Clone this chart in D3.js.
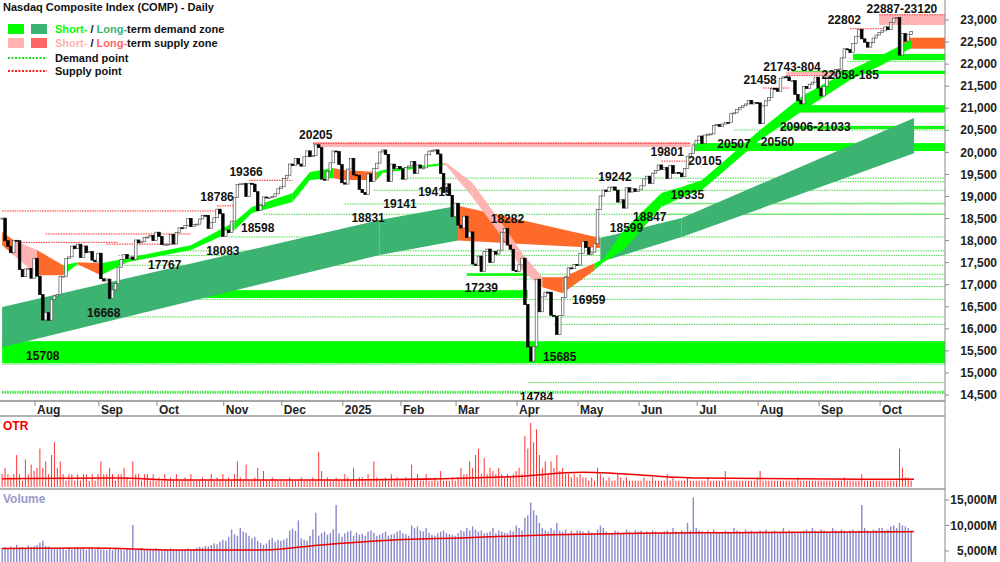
<!DOCTYPE html>
<html><head><meta charset="utf-8">
<script src="https://cdn.jsdelivr.net/npm/d3@7/dist/d3.min.js"></script>
<style>body{margin:0;background:#fff}text{font-family:"Liberation Sans",Arial,sans-serif}</style>
</head><body><svg id="chart" width="1000" height="562"></svg>
<script>
// daily closes, one array per month
const months = ["Jul","Aug","Sep","Oct","Nov","Dec","2025","Feb","Mar","Apr","May","Jun","Jul","Aug","Sep","Oct"];
const closes = [
 [18509,17997,17871,17726,18007,17997,17342,17182,17358,17370,17147,17599],
 [17194,16776,16200,16366,16195,16660,16745,16780,17188,17192,17594,17631,17877,17816,17918,17619,17877,17725,17754,17556,17516,17714],
 [17136,17084,17127,16690,16884,17025,17396,17569,17683,17592,17628,17573,18014,17948,17974,18074,18082,18119,17999,18190],
 [18095,17910,17918,17918,18138,17924,18183,18292,18282,18343,18502,18316,18367,18373,18490,18574,18573,18276,18415,18518,18712,18608,18095],
 [18239,18180,18439,18983,19269,19287,19298,18999,19299,19281,19108,18680,18791,18988,18966,18972,19003,19060,19175,19218],
 [19404,19480,19735,19700,19859,19736,19687,19902,20034,19902,19926,20173,20109,19392,19372,19572,19764,20031,20020,19722,19311],
 [19280,19621,19864,19490,19478,19162,19088,19044,19511,19338,19630,19756,20009,20053,19954,19341,19734,19632,19681,19627],
 [19392,19654,19692,19791,19523,19714,19643,19649,19945,20027,20041,20056,19962,19524,19087,19286,19026,18544,18847],
 [18350,18285,18553,18069,18196,17468,17436,17648,17303,17754,17808,17504,17750,17691,17784,18188,18271,17899,17804,17322,17299],
 [17449,17601,16551,15588,15268,15603,17125,16387,16724,16832,16831,16307,16286,15870,16300,16708,17166,17382,17366,17461,17446],
 [17711,17978,17844,17690,17738,17929,18708,19010,19146,19112,19211,19215,19143,18873,18925,18737,19199,19100,19175,19113,19150],
 [19243,19399,19460,19299,19529,19591,19714,19615,19662,19406,19701,19521,19546,19530,19447,19631,19912,19974,20168,20273],
 [20370,20202,20393,20412,20418,20611,20630,20585,20640,20678,20677,20885,20895,20974,21020,21057,21097,21178,21098,21130,21122],
 [20650,21053,21169,21242,21451,21450,21385,21681,21713,21710,21622,21629,21314,21172,21100,21496,21449,21544,21590,21705,21455],
 [21279,21497,21707,21700,21798,21879,21886,22141,22348,22333,22261,22470,22631,22788,22573,22497,22384,22484,22591,22660,22720],
 [22755,22844,22780,22941,23043,23054,22204,22694,22522,22671,22740]
];
const priceTicks = [23000,22500,22000,21500,21000,20500,20000,19500,19000,18500,18000,17500,17000,16500,16000,15500,15000,14500];

// long-term band: day index, low, high, kind (d demand / s supply)
const ltIdx  = [0,130,157,157,206,206,234,314];
const ltLo   = [15585,17671,18000,18000,17830,17512,18079,19980];
const ltHi   = [16492,18465,18790,18790,18057,18057,18510,20780];
const ltKind = ["d","d","d","s","s","d","d","d"];

// short-term band: d demand, s supply, o overlap
const stIdx  = [0,4,12,21,26,34,43,65,80,86,100,106,114,117,129,131,152,153,162,173,179,186,193,204,207,214,227,234,241,261,276,292,303,313];
const stLo   = [17897,17670,17217,17217,17466,17217,17510,17784,18237,18623,18872,19371,19417,19371,19371,19530,19711,19690,18985,18010,17330,16944,16808,17330,17510,17784,18760,18985,19144,20278,20959,21639,21979,22365];
const stHi   = [18192,18010,17784,17443,17510,17489,17602,17897,18419,18760,19076,19552,19643,19598,19552,19598,19757,19757,19303,18305,17716,17171,17171,17489,17580,18237,19076,19212,19371,20505,21299,21866,22206,22546];
const stKind = ["o","s","o","d","o","d","d","d","d","d","d","d","o","o","d","d","s","s","s","s","s","o","o","d","d","d","d","d","d","d","d","d","d","d"];

// horizontal zones: low, high, start day, end day, kind
const zoneLo = [15220,16700,17200,20030,20530,20910,21775,22090,20120,22887,22350,21760];
const zoneHi = [15720,16877,17260,20210,20600,21070,21850,22230,20230,23120,22600,21830];
const zoneS  = [0,38,160,238,268,275,272,293,107,302,310,270];
const zoneE  = [325,181,182,325,325,325,325,325,237,325,325,288];
const zoneK  = ["d","d","d","d","d","d","d","d","s","s","o","s"];

// demand / supply points: level, start day, end day
const demLv = [14560,14784,15200,15685,16100,16270,16668,16959,17130,17239,17440,17660,17767,18083,18598,18599,18831,18847,19141,19335,19415,20507,20560,20906,22058];
const demS  = [0,181,0,193,190,0,36,196,178,160,18,40,57,78,90,223,118,226,128,236,137,252,268,272,291];
const supLv = [18671,17960,18150,17920,18786,19366,20205,18282,17130,19801,21458,21743,22802,23120];
const supS  = [0,3,15,36,74,85,107,175,183,227,262,270,292,302];
const supE  = [74,40,65,60,80,100,237,187,200,237,271,288,305,325];

// point labels: text, day, price
const lblT = ["18671","15708","16668","17767","18083","18598","18786","19366","20205","18831","19141","19415","17239","18282","14784","15685","16959","19242","18599","18847","19801","19335","20105","20507","20560","21458","21743-804","20906-21033","22058-185","22802","22887-23120"];
const lblD = [-1,14,35,56,76,88,74,84,108,126,137,149,165,174,184,192,202,211,215,223,229,236,242,252,267,261,272,280,292,290,322];
const lblP = [18750,15500,16480,17580,17900,18410,18900,19470,20310,18640,18960,19230,17050,18390,14590,15490,16770,19350,18410,18660,19910,19150,19920,20320,20370,21560,21850,20710,21870,22910,23170];
const lblBelow = [0,1,1,1,1,1,0,0,0,1,1,1,1,0,1,1,1,0,1,1,0,1,1,1,1,0,0,1,1,0,0];

// OTR and volume (thousand M), one value per day
const otr = [2,3,2,1.5,2,5,2,1,4.3,2,3.5,2.5, 3,6,3,4,2,5,7,3,4,2,1,2,2,1,2,1,2,2,1,2,1,2, 4,2,2,3,2,1,2,2,3,1.5,1,4,2,2,1,2,2,1,2,1,
 1.5,1,2,1,1.5,1,2,1,1,1.5,1,2,1,1,1,1.5,1,1,2,1,1.5,1,2, 1,1.5,1,2,4,1.5,1,3.5,1,1,1.5,3,1,2.5,1,1,1.5,1,1,1, 1,1,1.5,1,1,1,1.5,1,1,1,1.5,1,5.5,2.5,1,1.5,1,1,1.5,1,1,
 2,1.5,1,3,1,1.5,1.5,1,2,1,4,1.5,1,1,1.5,1,2,1,1.5,1, 1,1.5,1,3.5,1,2,1,1,2,1,1,1.5,1,2.5,1,1,1,1.5,1,
 1.5,3,2,2,4,3,5,6,2,4.5,2,3,2.5,2,3,2,1.5,2,1.5,2,2.5, 3,2,8,6,10,7,9,5,3,4,2,4,3,5,2.5,3,2,2,1.5,2,1.5,
 2,1.5,1.5,1,1.5,1,3,2,1.5,1,1.5,1,1,2,1.5,1,1.5,1,1,1,1, 1,1.5,1,1,1.5,1,1,1,1,2,1,1.5,1,1,1,1,1.5,1,1,1,
 1,1,1,1.5,1,1,1,1,1,2.5,1,1,1,1,1,1,1,1,1,1,1.5, 2.5,1,1,1,1,1,1,1,1,1,1,1,1,1.5,1,1,1,1,1,1,1, 1,1,1,1,1,1,1,1,1.5,1,1,1,1,1,2,1,1,1,1,1,1,
 1,1,1,1,1,1,6,3,1.5,1.5,1];
const vol = [5.6,5.8,5.4,5.9,5.5,6.2,5.7,5.8,5.6,6.1,5.8,6.0, 6.2,6.6,7.0,6.0,5.9,5.5,5.6,5.4,5.5,5.6,5.2,5.6,5.3,5.4,5.6,5.4,5.5,5.2,5.5,5.6,5.3,5.8, 5.4,5.3,5.2,5.5,5.2,5.4,5.6,5.3,5.1,5.4,5.3,10.1,5.2,5.4,5.6,5.3,5.4,5.2,5.3,5.6,
 5.3,5.1,5.4,5.2,5.5,5.3,5.4,5.2,5.3,5.4,5.5,5.3,5.4,5.6,5.8,5.7,6.0,5.9,6.2,6.5,6.3,6.8,7.2, 7.0,7.8,9.2,8.3,8.0,9.5,8.8,8.6,8.0,7.5,7.8,7.0,6.6,6.2,6.5,7.2,7.6,6.8,7.2,7.0, 7.2,7.5,9.0,9.4,9.0,11.0,7.5,7.2,7.0,8.0,9.2,12.5,8.0,8.5,8.8,8.2,8.5,9.2,14.0,8.5,7.8,
 8.5,8.8,9.0,8.0,8.6,8.2,8.4,8.0,8.8,9.0,8.6,8.0,8.2,8.5,8.8,8.0,8.2,8.4,8.8,9.0, 8.5,8.3,8.0,10.0,9.5,9.8,9.0,8.8,9.5,8.6,8.2,8.0,8.5,8.8,9.0,8.5,8.3,8.2,8.0,
 8.5,9.0,8.8,9.5,9.0,9.8,9.2,8.8,9.0,8.5,8.6,8.8,9.5,8.5,9.0,8.8,8.6,8.5,9.0,8.8,10.0, 9.5,9.0,11.5,12.0,14.5,13.0,12.0,10.5,9.5,9.0,8.8,9.5,9.0,10.5,9.0,8.8,9.2,8.5,9.0,8.6,9.0,
 9.0,8.8,8.5,9.0,8.6,8.5,9.2,10.0,9.5,8.8,8.5,8.6,9.0,8.8,8.5,8.6,9.2,8.8,8.5,9.0,8.8, 9.0,8.5,8.8,8.6,9.0,8.8,8.5,8.6,8.8,9.0,8.5,9.5,8.8,8.6,9.0,8.8,10.5,9.0,15.5,9.5,
 9.0,8.8,8.5,9.0,8.6,9.2,8.8,8.5,8.6,9.0,8.8,8.5,9.5,9.0,8.8,8.6,9.2,8.8,9.0,8.5,8.6, 9.0,8.8,9.2,8.6,8.8,9.0,8.5,8.8,9.5,8.6,9.0,8.8,8.6,8.5,8.8,9.0,9.2,8.8,9.5,9.0,8.8,
 9.2,9.0,8.8,8.6,9.5,9.0,8.8,9.2,9.0,8.6,9.0,9.2,8.8,9.0,14.0,9.5,9.0,8.8,9.2,9.0,9.5, 9.5,9.0,9.2,9.8,10.0,9.5,10.5,10.0,9.8,9.5,9.0];
const otrMaIdx = [0,40,60,120,175,200,240,314], otrMaV = [1.3,1.4,1.1,1.1,1.6,2.3,1.4,1.2];
const volMaIdx = [0,30,60,90,110,130,160,190,220,250,280,314], volMaV = [5.5,5.6,5.2,5.2,6.2,7.0,7.6,8.2,8.5,8.6,8.7,8.8];

const days = [];
closes.forEach((m, mi) => m.forEach((c, j) => days.push({c: c, o: days.length ? days[days.length-1].c : c, first: j == 0 && mi > 0, mi: mi})));
const N = days.length;

const svg = d3.select("#chart");
const x = d3.scaleLinear().domain([12, 304]).range([37, 885]);
const y = d3.scaleLinear().domain([14500, 23000]).range([395, 20]);
const yOtr = d3.scaleLinear().domain([0, 10]).range([487, 423]);
const yVol = d3.scaleLinear().domain([5, 15]).range([551, 500]);
const xr = 945;

svg.append("clipPath").attr("id","main").append("rect").attr("x",0).attr("y",0).attr("width",xr).attr("height",400);
const g = svg.append("g").attr("clip-path","url(#main)");
const col = {d:"#00ff00", s:"#ffb3b3", o:"#ff6a2a", ld:"#3cb371", ls:"#ff6a2a"};

// horizontal zones
zoneLo.forEach((lo, i) => g.append("rect").attr("x", x(zoneS[i])).attr("width", Math.min(x(zoneE[i]), xr) - x(zoneS[i]))
  .attr("y", y(zoneHi[i])).attr("height", y(lo) - y(zoneHi[i])).attr("fill", col[zoneK[i]]));

// dotted points
demLv.forEach((v, i) => g.append("line").attr("x1", x(demS[i])).attr("x2", xr).attr("y1", y(v)).attr("y2", y(v))
  .attr("stroke","#44dd44").attr("stroke-width", i == 0 ? 3 : 1).attr("stroke-dasharray","1.5,1"));
supLv.forEach((v, i) => g.append("line").attr("x1", x(supS[i])).attr("x2", Math.min(x(supE[i]), xr)).attr("y1", y(v)).attr("y2", y(v))
  .attr("stroke","#ff2222").attr("stroke-width",1).attr("stroke-dasharray","1.5,1"));

// bands
function band(idx, lo, hi, kind, cmap) {
  for (let i = 0; i < idx.length - 1; i++) {
    if (idx[i+1] == idx[i]) continue;
    const pts = [i, i+1];
    g.append("path").datum(pts).attr("fill", cmap[kind[i]])
      .attr("d", d3.area().x(k => x(idx[k])).y0(k => y(lo[k])).y1(k => y(hi[k]))(pts));
  }
}
band(ltIdx, ltLo, ltHi, ltKind, {d: col.ld, s: col.ls});
band(stIdx, stLo, stHi, stKind, col);

// candles
const bw = 2.6;
days.forEach((d, i) => {
  const up = d.c >= d.o;
  const top = y(Math.max(d.c, d.o)), h = Math.max(1, Math.abs(y(d.c) - y(d.o)));
  g.append("rect").attr("x", x(i) - bw/2).attr("y", top).attr("width", bw).attr("height", h)
    .attr("fill", up ? "#fff" : "#000").attr("stroke", up ? "#555" : "#000").attr("stroke-width", 0.7);
});

// labels
lblT.forEach((t, i) => g.append("text").attr("x", x(lblD[i])).attr("y", y(lblP[i]))
  .attr("text-anchor", i == 0 ? "end" : (i == lblT.length-1 ? "end" : "middle"))
  .attr("dy", lblBelow[i] ? "0.8em" : "0").attr("font-size", 12).attr("font-weight","bold").attr("fill","#111").text(t));

// axes frame
svg.append("line").attr("x1", xr).attr("x2", xr).attr("y1", 0).attr("y2", 562).attr("stroke","#888");
svg.append("line").attr("x1", 0).attr("x2", xr).attr("y1", 401).attr("y2", 401).attr("stroke","#888").attr("stroke-width",1.5);
[416, 489].forEach(v => svg.append("line").attr("x1",0).attr("x2",xr).attr("y1",v).attr("y2",v).attr("stroke","#999").attr("stroke-width",1.5));
priceTicks.forEach(v => {
  svg.append("line").attr("x1", xr).attr("x2", xr+4).attr("y1", y(v)).attr("y2", y(v)).attr("stroke","#888");
  svg.append("text").attr("x", 997).attr("y", y(v)).attr("dy","0.35em").attr("text-anchor","end")
    .attr("font-size", 12).attr("font-weight","bold").attr("fill","#222").text(d3.format(",")(v));
});
days.forEach((d, i) => { if (d.first) {
  svg.append("line").attr("x1", x(i)-2).attr("x2", x(i)-2).attr("y1", 401).attr("y2", 406).attr("stroke","#888");
  svg.append("text").attr("x", x(i)).attr("y", 414).attr("font-size", 12).attr("font-weight","bold").attr("fill","#222").text(months[d.mi]);
}});

// OTR panel
svg.append("text").attr("x",3).attr("y",430).attr("font-size",12).attr("font-weight","bold").attr("fill","#e00").text("OTR");
otr.slice(0, N).forEach((v, i) => svg.append("line").attr("x1", x(i)).attr("x2", x(i)).attr("y1", yOtr(0)).attr("y2", yOtr(v)).attr("stroke","#ff3333").attr("stroke-width",1));
svg.append("path").attr("fill","none").attr("stroke","#e00").attr("stroke-width",1.5)
  .attr("d", d3.line().x(k => x(otrMaIdx[k])).y(k => yOtr(otrMaV[k])).curve(d3.curveMonotoneX)(d3.range(otrMaIdx.length)));

// Volume panel
svg.append("text").attr("x",3).attr("y",503).attr("font-size",12).attr("font-weight","bold").attr("fill","#9999cc").text("Volume");
vol.slice(0, N).forEach((v, i) => svg.append("line").attr("x1", x(i)).attr("x2", x(i)).attr("y1", 562).attr("y2", yVol(v)).attr("stroke","#8888cc").attr("stroke-width",1.4));
svg.append("path").attr("fill","none").attr("stroke","#e00").attr("stroke-width",1.5)
  .attr("d", d3.line().x(k => x(volMaIdx[k])).y(k => yVol(volMaV[k])).curve(d3.curveMonotoneX)(d3.range(volMaIdx.length)));
[15, 10, 5].forEach(v => {
  svg.append("line").attr("x1", xr).attr("x2", xr+4).attr("y1", yVol(v)).attr("y2", yVol(v)).attr("stroke","#888");
  svg.append("text").attr("x", 997).attr("y", yVol(v)).attr("dy","0.35em").attr("text-anchor","end")
    .attr("font-size", 12).attr("font-weight","bold").attr("fill","#222").text(d3.format(",")(v*1000) + "M");
});

// title and legend
svg.append("text").attr("x",3).attr("y",11).attr("font-size",11).attr("font-weight","bold").attr("fill","#111").text("Nasdaq Composite Index (COMP) - Daily");
const lg = svg.append("g").attr("font-size",11).attr("font-weight","bold");
[["#00ff00","#3cb371",33],["#ffb3b3","#ff6666",47]].forEach((r, i) => {
  lg.append("rect").attr("x",8).attr("y",r[2]-9).attr("width",16).attr("height",10).attr("fill",r[0]);
  lg.append("rect").attr("x",31).attr("y",r[2]-9).attr("width",16).attr("height",10).attr("fill",r[1]);
  const t = lg.append("text").attr("x",55).attr("y",r[2]);
  t.append("tspan").attr("fill",r[0]).text("Short-");
  t.append("tspan").attr("fill","#111").text(" / ");
  t.append("tspan").attr("fill",r[1]).text("Long-");
  t.append("tspan").attr("fill","#111").text(i ? "term supply zone" : "term demand zone");
});
[["#22dd22","Demand point",62],["#ff2222","Supply point",75]].forEach(r => {
  lg.append("line").attr("x1",8).attr("x2",47).attr("y1",r[2]-4).attr("y2",r[2]-4).attr("stroke",r[0]).attr("stroke-width",2).attr("stroke-dasharray","2,1.5");
  lg.append("text").attr("x",55).attr("y",r[2]).attr("fill","#111").text(r[1]);
});
</script></body></html>
